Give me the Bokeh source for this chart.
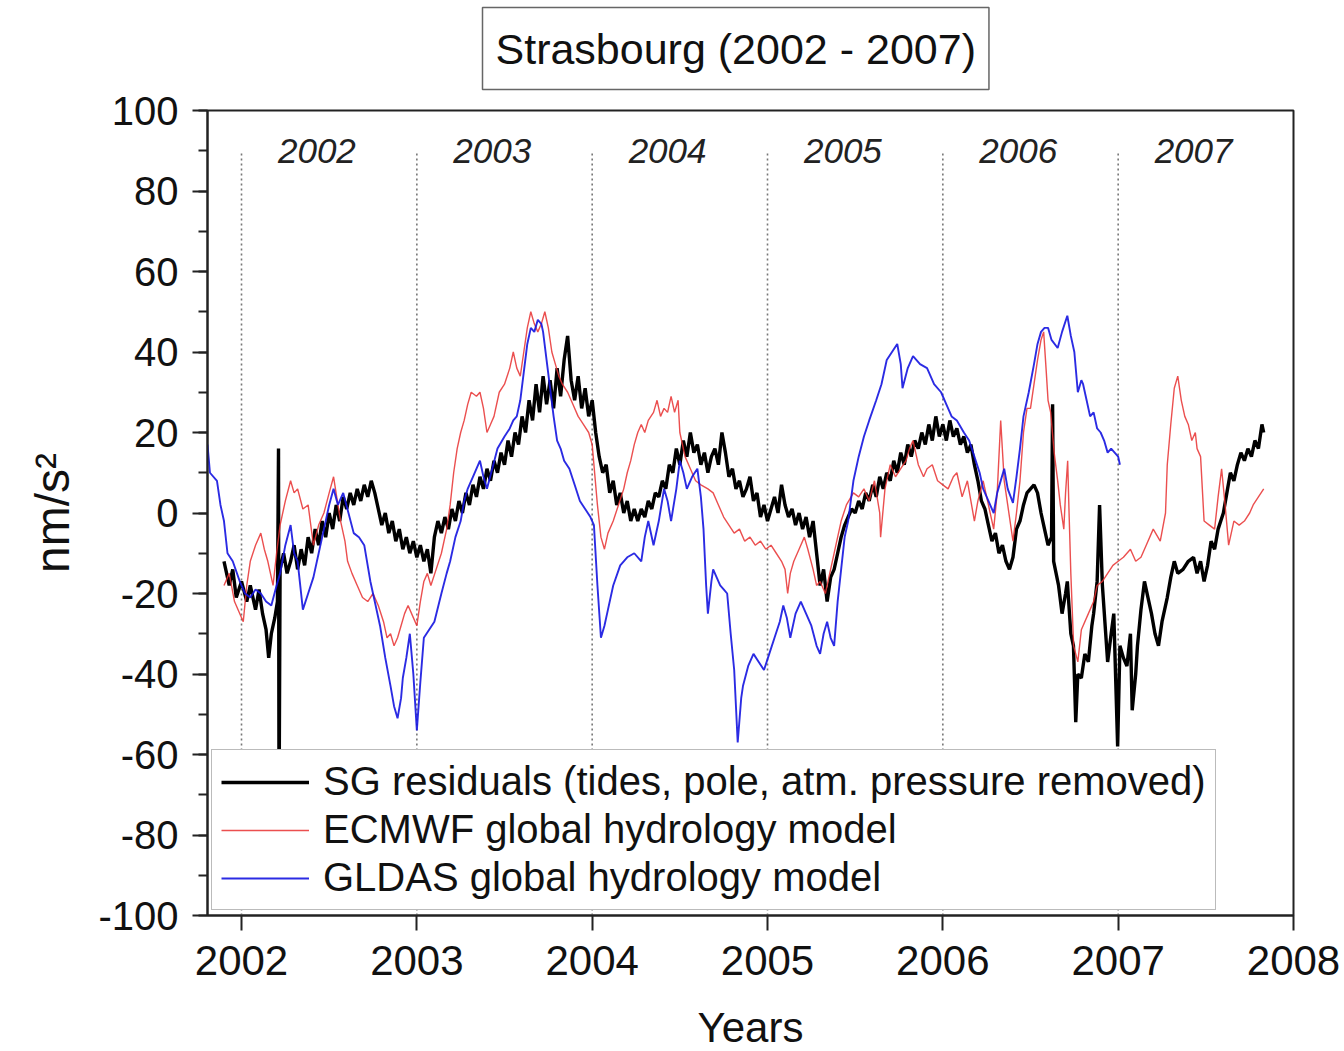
from bokeh.plotting import figure
from bokeh.models import Title, SingleIntervalTicker, Range1d, PrintfTickFormatter
from bokeh.core.properties import value
from bokeh.embed import file_html
from bokeh.resources import INLINE

# ---------------- data ----------------
sg_t = [2001.90, 2001.93, 2001.95, 2001.97, 2002.00, 2002.03, 2002.05, 2002.08, 2002.10, 2002.12,
        2002.14, 2002.155, 2002.17, 2002.19, 2002.205, 2002.211, 2002.214, 2002.22, 2002.24, 2002.26,
        2002.28, 2002.30, 2002.32, 2002.34, 2002.36, 2002.38, 2002.40, 2002.42, 2002.44, 2002.46,
        2002.48, 2002.50, 2002.52, 2002.54, 2002.56, 2002.58, 2002.60, 2002.62, 2002.64, 2002.66,
        2002.68, 2002.70, 2002.72, 2002.74, 2002.76, 2002.78, 2002.80, 2002.82, 2002.84, 2002.86,
        2002.88, 2002.90, 2002.92, 2002.94, 2002.96, 2002.98, 2003.00, 2003.02, 2003.04, 2003.06,
        2003.08, 2003.10, 2003.12, 2003.14, 2003.16, 2003.18, 2003.20, 2003.22, 2003.24, 2003.26,
        2003.28, 2003.30, 2003.32, 2003.34, 2003.36, 2003.38, 2003.40, 2003.42, 2003.44, 2003.46,
        2003.48, 2003.50, 2003.52, 2003.54, 2003.56, 2003.58, 2003.60, 2003.62, 2003.64, 2003.66,
        2003.68, 2003.70, 2003.72, 2003.74, 2003.76, 2003.78, 2003.80, 2003.82, 2003.84, 2003.86,
        2003.88, 2003.90, 2003.92, 2003.94, 2003.96, 2003.98, 2004.00, 2004.02, 2004.04, 2004.06,
        2004.08, 2004.10, 2004.12, 2004.14, 2004.16, 2004.18, 2004.20, 2004.22, 2004.24, 2004.26,
        2004.28, 2004.30, 2004.32, 2004.34, 2004.36, 2004.38, 2004.40, 2004.42, 2004.44, 2004.46,
        2004.48, 2004.50, 2004.52, 2004.54, 2004.56, 2004.58, 2004.60, 2004.62, 2004.64, 2004.66,
        2004.68, 2004.70, 2004.72, 2004.74, 2004.76, 2004.78, 2004.80, 2004.82, 2004.84, 2004.86,
        2004.88, 2004.90, 2004.92, 2004.94, 2004.96, 2004.98, 2005.00, 2005.02, 2005.04, 2005.06,
        2005.08, 2005.10, 2005.12, 2005.14, 2005.16, 2005.18, 2005.20, 2005.22, 2005.24, 2005.26,
        2005.28, 2005.30, 2005.32, 2005.34, 2005.36, 2005.38, 2005.40, 2005.42, 2005.44, 2005.46,
        2005.48, 2005.50, 2005.52, 2005.54, 2005.56, 2005.58, 2005.60, 2005.62, 2005.64, 2005.66,
        2005.68, 2005.70, 2005.72, 2005.74, 2005.76, 2005.78, 2005.80, 2005.82, 2005.84, 2005.86,
        2005.88, 2005.90, 2005.92, 2005.94, 2005.96, 2005.98, 2006.00, 2006.02, 2006.04, 2006.06,
        2006.08, 2006.10, 2006.12, 2006.14, 2006.16, 2006.18, 2006.20, 2006.22, 2006.24, 2006.26,
        2006.28, 2006.30, 2006.32, 2006.34, 2006.36, 2006.38, 2006.40, 2006.42, 2006.44, 2006.46,
        2006.48, 2006.50, 2006.52, 2006.54, 2006.56, 2006.58, 2006.60, 2006.62, 2006.626, 2006.632,
        2006.66, 2006.68, 2006.70, 2006.71, 2006.73, 2006.745, 2006.758, 2006.77, 2006.79, 2006.81,
        2006.83, 2006.85, 2006.86, 2006.88, 2006.894, 2006.91, 2006.94, 2006.96, 2006.975, 2006.997,
        2007.01, 2007.03, 2007.05, 2007.07, 2007.08, 2007.10, 2007.11, 2007.13, 2007.15, 2007.17,
        2007.19, 2007.21, 2007.23, 2007.25, 2007.28, 2007.30, 2007.32, 2007.34, 2007.37, 2007.40,
        2007.43, 2007.45, 2007.47, 2007.49, 2007.51, 2007.53, 2007.55, 2007.57, 2007.60, 2007.62,
        2007.64, 2007.66, 2007.68, 2007.70, 2007.72, 2007.74, 2007.76, 2007.78, 2007.80, 2007.82,
        2007.83]
sg_v = [-12, -18, -14, -21, -17, -22, -18, -24, -19, -25,
        -29, -36, -30, -26, -22, 16, -75, -14, -10, -15,
        -12, -8, -14, -9, -13, -6, -10, -4, -8, -2,
        -6, 0, -4, 2, -2, 4, 1, 5, 2, 6,
        3, 7, 4, 8, 5, 1, -3, 0, -5, -2,
        -7, -4, -9, -6, -10, -7, -11, -8, -12, -9,
        -15, -6, -2, -5, -1, -4, 1, -2, 3, 0,
        5, 2, 7, 4, 9, 6, 11, 8, 13, 10,
        15, 12, 18, 14, 20, 17, 24, 20, 28, 23,
        32, 25, 34, 27, 33, 26, 36, 29, 38, 44,
        33, 28, 34, 26, 31, 24, 28, 20, 14, 10,
        12, 5, 8, 2, 5, 0, 3, -2, 1, -2,
        1, -1, 3, 1, 5, 4, 8, 6, 12, 10,
        16, 12, 18, 14, 20, 15, 17, 12, 15, 10,
        14, 16, 12, 20, 15, 9, 11, 6, 8, 4,
        6, 9, 3, 5, -1, 2, -2, 1, 4, 0,
        7, 2, -1, 1, -3, 0, -4, -1, -6, -2,
        -10, -18, -14, -22, -16, -14, -10, -6, -3, -1,
        1, 0, 3, 1, 5, 3, 7, 4, 9, 6,
        10, 8, 13, 10, 15, 12, 17, 14, 18, 16,
        20, 17, 22, 18, 24, 19, 22, 18, 23, 19,
        21, 17, 19, 15, 17, 12, 8, 3, 1, -3,
        -7, -5, -10, -8, -12, -14, -11, -4, -2, 2,
        5, 6, 7, 5, 0, -4, -8, -6, 27, -12,
        -18, -25, -20, -17, -30, -33, -52, -40, -41, -35,
        -37, -28, -25, -17, 2, -18, -37, -30, -25, -58,
        -33, -36, -38, -30, -49, -40, -33, -24, -17, -21,
        -25, -30, -33, -27, -21, -16, -12, -15, -14, -12,
        -11, -15, -12, -17, -13, -7, -9, -4, 0, 5,
        10, 8, 12, 15, 13, 16, 14, 18, 16, 22,
        20]

ecmwf_t = [2001.90, 2001.93, 2001.96, 2002.01, 2002.03, 2002.05, 2002.08, 2002.11, 2002.13, 2002.15,
           2002.18, 2002.20, 2002.22, 2002.25, 2002.28, 2002.30, 2002.32, 2002.35, 2002.38, 2002.41,
           2002.44, 2002.47, 2002.50, 2002.525, 2002.55, 2002.565, 2002.59, 2002.605, 2002.63, 2002.66,
           2002.69, 2002.72, 2002.75, 2002.78, 2002.81, 2002.83, 2002.85, 2002.87, 2002.89, 2002.91,
           2002.93, 2002.95, 2002.98, 2003.00, 2003.02, 2003.04, 2003.06, 2003.08, 2003.11, 2003.14,
           2003.17, 2003.19, 2003.21, 2003.23, 2003.25, 2003.27, 2003.29, 2003.31, 2003.34, 2003.36,
           2003.38, 2003.40, 2003.42, 2003.44, 2003.47, 2003.50, 2003.53, 2003.55, 2003.57, 2003.59,
           2003.61, 2003.63, 2003.65, 2003.67, 2003.69, 2003.71, 2003.73, 2003.75, 2003.77, 2003.79,
           2003.81, 2003.83, 2003.86, 2003.89, 2003.92, 2003.95, 2003.98, 2004.00, 2004.03, 2004.05,
           2004.07, 2004.09, 2004.12, 2004.15, 2004.18, 2004.20, 2004.22, 2004.24, 2004.26, 2004.28,
           2004.30, 2004.32, 2004.35, 2004.37, 2004.39, 2004.41, 2004.43, 2004.45, 2004.47, 2004.49,
           2004.50, 2004.53, 2004.56, 2004.59, 2004.62, 2004.66, 2004.69, 2004.72, 2004.75, 2004.78,
           2004.81, 2004.84, 2004.87, 2004.90, 2004.93, 2004.96, 2004.99, 2005.02, 2005.05, 2005.08,
           2005.10, 2005.115, 2005.13, 2005.15, 2005.18, 2005.21, 2005.23, 2005.26, 2005.28, 2005.30,
           2005.33, 2005.36, 2005.39, 2005.42, 2005.45, 2005.49, 2005.52, 2005.55, 2005.58, 2005.61,
           2005.64, 2005.645, 2005.67, 2005.70, 2005.73, 2005.76, 2005.79, 2005.81, 2005.83, 2005.86,
           2005.89, 2005.91, 2005.94, 2005.97, 2006.00, 2006.03, 2006.06, 2006.08, 2006.11, 2006.14,
           2006.18, 2006.20, 2006.23, 2006.26, 2006.29, 2006.31, 2006.33, 2006.35, 2006.37, 2006.40,
           2006.42, 2006.44, 2006.46, 2006.48, 2006.50, 2006.52, 2006.54, 2006.56, 2006.575, 2006.59,
           2006.60, 2006.615, 2006.635, 2006.655, 2006.67, 2006.69, 2006.70, 2006.712, 2006.72, 2006.73,
           2006.746, 2006.77, 2006.79, 2006.83, 2006.86, 2006.88, 2006.91, 2006.94, 2006.97, 2007.00,
           2007.03, 2007.07, 2007.10, 2007.13, 2007.16, 2007.20, 2007.24, 2007.27, 2007.28, 2007.30,
           2007.32, 2007.34, 2007.36, 2007.38, 2007.40, 2007.42, 2007.44, 2007.45, 2007.47, 2007.49,
           2007.52, 2007.55, 2007.57, 2007.59, 2007.61, 2007.63, 2007.66, 2007.69, 2007.72, 2007.75,
           2007.77, 2007.80, 2007.83]
ecmwf_v = [-18, -15, -22, -27, -18, -12, -8, -5, -9, -12,
           -18, -10, -3, 3, 8, 5, 6, 1, 2, -8,
           -3, 0, 5, 9, 2, -2, -7, -12, -15, -18,
           -21, -22, -20, -23, -27, -31, -30, -33, -31, -28,
           -25, -23, -26, -28, -22, -17, -15, -18, -14, -10,
           -4, 2, 10, 16, 20, 23, 27, 30, 29, 30,
           26, 20, 22, 24, 30, 32, 36, 40, 36, 34,
           40, 46, 50, 47, 45, 47, 50, 46, 40, 37,
           34, 32, 30, 27, 24, 22, 20, 17, 2, -6,
           -9, -5, -2, 2, 6, 10, 13, 17, 20, 22,
           20, 23, 25, 28, 24, 26, 25, 29, 25, 28,
           20, 14, 11, 8, 7, 6, 5, 2, -1, -3,
           -5, -4, -7, -6, -8, -7, -9, -8, -10, -12,
           -14, -20, -15, -12, -9, -6, -9, -14, -18, -17,
           -20, -14, -8, -2, 2, 5, 4, 6, 3, 8,
           0, -6, 6, 12, 9, 11, 13, 16, 18, 12,
           9, 11, 12, 8, 7, 6, 9, 10, 4, 8,
           -2, 3, 8, 2, -4, 5, 23, 8, 2, -7,
           0, 8, 20, 26, 26, 32, 38, 43, 45, 35,
           28, 25, 15, 8, 2, -4, 5, 13, 0, -15,
           -33, -37, -29, -25, -22, -18, -17, -15, -13, -12,
           -11, -9, -12, -11, -8, -4, -7, 0, 12, 22,
           31, 34, 28, 24, 22, 18, 20, 16, 14, -2,
           -3, -4, 4, 11, 2, -8, -2, -3, -2, 0,
           2, 4, 6]

gldas_t = [2001.806, 2001.82, 2001.86, 2001.88, 2001.90, 2001.92, 2001.95, 2001.99, 2002.02, 2002.05,
           2002.08, 2002.11, 2002.14, 2002.17, 2002.20, 2002.22, 2002.25, 2002.28, 2002.30, 2002.32,
           2002.35, 2002.38, 2002.41, 2002.44, 2002.47, 2002.50, 2002.525, 2002.55, 2002.58, 2002.61,
           2002.64, 2002.67, 2002.70, 2002.735, 2002.76, 2002.79, 2002.82, 2002.85, 2002.87, 2002.89,
           2002.91, 2002.92, 2002.94, 2002.96, 2002.98, 2003.00, 2003.02, 2003.04, 2003.07, 2003.10,
           2003.14, 2003.17, 2003.19, 2003.22, 2003.25, 2003.27, 2003.29, 2003.32, 2003.36, 2003.38,
           2003.40, 2003.43, 2003.46, 2003.50, 2003.53, 2003.55, 2003.57, 2003.59, 2003.61, 2003.63,
           2003.65, 2003.67, 2003.69, 2003.71, 2003.72, 2003.74, 2003.76, 2003.78, 2003.80, 2003.82,
           2003.84, 2003.87, 2003.90, 2003.93, 2003.96, 2003.99, 2004.01, 2004.03, 2004.05, 2004.07,
           2004.09, 2004.12, 2004.16, 2004.20, 2004.24, 2004.28, 2004.30, 2004.32, 2004.35, 2004.38,
           2004.41, 2004.43, 2004.45, 2004.48, 2004.50, 2004.52, 2004.54, 2004.57, 2004.60, 2004.62,
           2004.635, 2004.65, 2004.66, 2004.68, 2004.69, 2004.71, 2004.73, 2004.75, 2004.77, 2004.79,
           2004.81, 2004.83, 2004.85, 2004.86, 2004.89, 2004.92, 2004.95, 2004.98, 2005.01, 2005.04,
           2005.07, 2005.09, 2005.11, 2005.13, 2005.16, 2005.19, 2005.22, 2005.25, 2005.28, 2005.30,
           2005.32, 2005.34, 2005.36, 2005.38, 2005.40, 2005.42, 2005.44, 2005.46, 2005.49, 2005.52,
           2005.55, 2005.58, 2005.62, 2005.65, 2005.68, 2005.71, 2005.74, 2005.76, 2005.77, 2005.80,
           2005.83, 2005.87, 2005.91, 2005.95, 2005.99, 2006.02, 2006.05, 2006.08, 2006.12, 2006.15,
           2006.18, 2006.21, 2006.23, 2006.26, 2006.29, 2006.31, 2006.35, 2006.37, 2006.40, 2006.42,
           2006.44, 2006.46, 2006.49, 2006.52, 2006.54, 2006.56, 2006.58, 2006.60, 2006.62, 2006.655,
           2006.68, 2006.71, 2006.73, 2006.75, 2006.77, 2006.79, 2006.80, 2006.82, 2006.84, 2006.86,
           2006.88, 2006.90, 2006.92, 2006.94, 2006.96, 2006.98, 2007.00, 2007.01]
gldas_v = [17, 10, 8, 2, -2, -10, -12, -17, -20, -21,
           -19, -20, -22, -23, -18, -15, -8, -3, -10, -12,
           -24, -20, -16, -10, -4, 2, 6, 2, 5, 0,
           -5, -6, -8, -17, -22, -28, -36, -43, -48, -51,
           -46, -41, -36, -30, -40, -54, -42, -31, -29, -27,
           -20, -15, -12, -6, -2, 3, 6, 9, 13, 9,
           6, 11, 16, 19, 21, 23, 24, 28, 35, 42,
           46, 45, 48, 47, 45, 38, 31, 24, 18, 16,
           13, 11, 7, 3, 1, -1, -3, -18, -31, -28,
           -24, -18, -13, -11, -10, -12, -6, -2, -8, -2,
           6, 3, -2, 6, 13, 10, 6, 9, 11, 4,
           -4, -18, -25, -17, -14, -16, -18, -19, -20, -30,
           -39, -57, -46, -43, -38, -35, -37, -39, -35, -31,
           -27, -23, -26, -31, -25, -22, -25, -28, -33, -35,
           -30, -27, -31, -33, -22, -14, -6, -2, 8, 14,
           19, 23, 28, 32, 38, 40, 42, 37, 31, 36,
           39, 37, 36, 32, 30, 27, 24, 23, 20, 18,
           14, 10, 6, 3, 0, 5, 11, 6, 2.5, 9,
           16, 24, 30, 37, 42, 45, 46, 46, 43, 41,
           45, 49, 44, 40, 30, 33, 32, 28, 24, 25,
           21, 20, 18, 15, 16, 15, 14, 12]

year_marks = [2002, 2003, 2004, 2005, 2006, 2007]
year_texts = ["2002", "2003", "2004", "2005", "2006", "2007"]

series_names = ["SG residuals (tides, pole, atm. pressure removed)",
                "ECMWF global hydrology model",
                "GLDAS global hydrology model"]

FONT = "Liberation Sans"

p = figure(frame_width=1086, frame_height=805, output_backend="svg", toolbar_location=None,
           x_range=Range1d(2001.806, 2008.0), y_range=Range1d(-100, 100),
           min_border_left=207, min_border_right=51, min_border_top=110, min_border_bottom=0,
           x_axis_label="Years", y_axis_label="nm/s\u00b2")

p.background_fill_color = "white"
p.border_fill_color = "white"
p.outline_line_color = "#222222"
p.outline_line_width = 2
p.xgrid.visible = False
p.ygrid.visible = False

# axes
p.xaxis.ticker = SingleIntervalTicker(interval=1, num_minor_ticks=0)
p.yaxis.ticker = SingleIntervalTicker(interval=20, num_minor_ticks=2)
p.xaxis.formatter = PrintfTickFormatter(format="%d")
p.yaxis.formatter = PrintfTickFormatter(format="%d")
for ax in (p.xaxis, p.yaxis):
    ax.axis_line_color = "#222222"
    ax.axis_line_width = 2
    ax.major_tick_line_color = "#222222"
    ax.major_tick_line_width = 2
    ax.major_tick_in = 0
    ax.major_tick_out = 15
    ax.minor_tick_in = 0
    ax.minor_tick_out = 9
    ax.minor_tick_line_color = "#222222"
    ax.minor_tick_line_width = 2
    ax.major_label_text_font = FONT
    ax.major_label_text_color = "#111111"
    ax.axis_label_text_font = FONT
    ax.axis_label_text_font_style = "normal"
    ax.axis_label_text_color = "#111111"
p.xaxis.minor_tick_line_color = None
p.xaxis.major_label_text_font_size = "42px"
p.yaxis.major_label_text_font_size = "40px"
p.xaxis.major_label_standoff = 15
p.yaxis.major_label_standoff = 14
p.xaxis.axis_label_text_font_size = "42px"
p.yaxis.axis_label_text_font_size = "48px"
p.xaxis.axis_label_standoff = 26
p.yaxis.axis_label_standoff = 16

# dotted year separators
p.segment(x0=year_marks, y0=[-100] * len(year_marks), x1=year_marks, y1=[90] * len(year_marks),
          line_color="#777777", line_width=1.6, line_dash="2 3")

# year labels
p.text(x=[y + 0.43 for y in year_marks], y=[90] * len(year_marks), text=year_texts,
       text_font=value(FONT), text_font_size="35px", text_font_style="italic",
       text_align="center", text_baseline="middle", text_color="#222222")

# series
p.line(sg_t, sg_v, line_color="#000000", line_width=3.4, legend_label=series_names[0])
p.line(ecmwf_t, ecmwf_v, line_color="#e83030", line_width=1.4, line_alpha=0.85,
       legend_label=series_names[1])
p.line(gldas_t, gldas_v, line_color="#1414e0", line_width=1.9, line_alpha=0.9,
       legend_label=series_names[2])

# legend
lg = p.legend[0]
lg.location = (4, 5)
lg.margin = 0
lg.padding = 9
lg.spacing = 3
lg.glyph_width = 88
lg.glyph_height = 38
lg.label_height = 38
lg.label_standoff = 14
lg.label_text_font = FONT
lg.label_text_font_size = "40px"
lg.label_text_color = "#111111"
lg.border_line_color = "#777777"
lg.border_line_width = 1.5
lg.background_fill_color = "white"
lg.background_fill_alpha = 1.0

# boxed title
p.title = Title(text="Strasbourg (2002 - 2007)", align="left", vertical_align="top",
                text_font=FONT, text_font_size="43px", text_font_style="normal",
                text_color="#111111",
                border_line_color="#666666", border_line_width=1.5,
                background_fill_color="white", padding=(13, 17),
                standoff=0, offset=275)
# blank spacer between the boxed title and the plot frame
p.add_layout(Title(text=" ", text_font_size="15px", standoff=0), "above")

open("out.html", "w").write(file_html(p, INLINE))
